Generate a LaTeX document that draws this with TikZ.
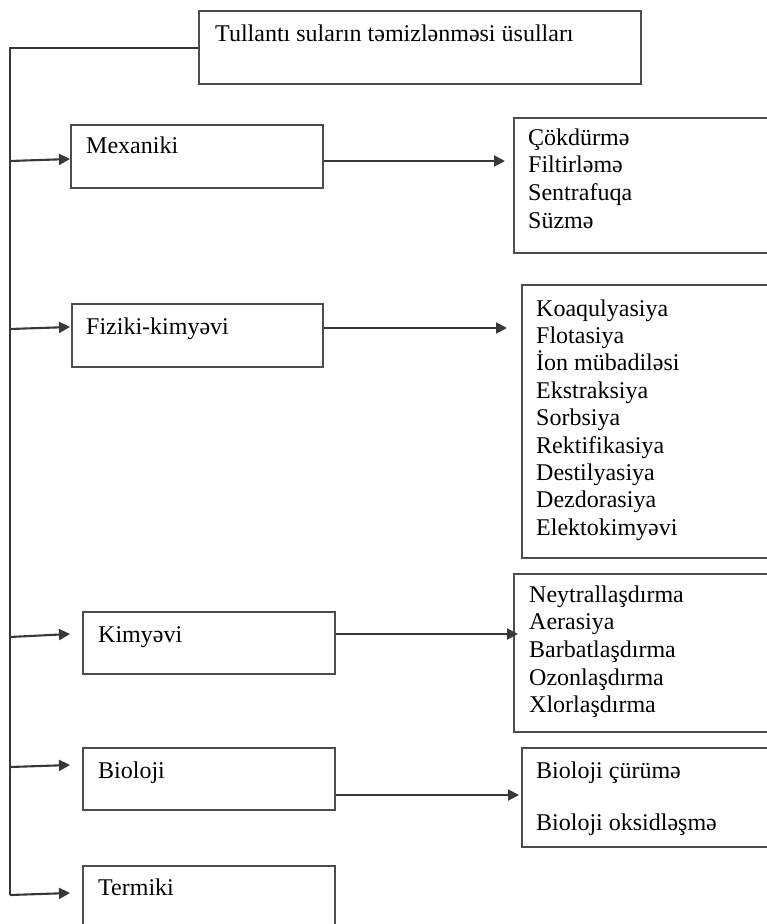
\documentclass[tikz,border=0pt]{standalone}
\usepackage{fontspec}
\setmainfont{Liberation Serif}
\usetikzlibrary{arrows.meta}
\begin{document}
\begin{tikzpicture}[x=1pt,y=-1pt,
  box/.style={draw=black!70, line width=2.3pt, rectangle, anchor=north west, inner sep=0pt},
  conn/.style={draw=black!78, line width=2.1pt},
  arr/.style={conn, -{Triangle[length=11pt,width=11pt]}},
  txt/.style={anchor=base west, inner sep=0pt, font=\fontsize{24}{27.6}\selectfont, text=black}]
\useasboundingbox (0,0) rectangle (767,924);
\fill[white] (0,0) rectangle (767,924);

% boxes
\node[box, minimum width=442pt, minimum height=73pt] (title) at (198,10) {};
\node[box, minimum width=252pt, minimum height=63pt] (mex) at (70,124) {};
\node[box, minimum width=251pt, minimum height=63pt] (fiz) at (71,303) {};
\node[box, minimum width=252pt, minimum height=62pt] (kim) at (82,611) {};
\node[box, minimum width=252pt, minimum height=62pt] (bio) at (82,747) {};
\node[box, minimum width=252pt, minimum height=80pt] (ter) at (82,865) {};
\node[box, minimum width=280pt, minimum height=135pt] (r1) at (513,117) {};
\node[box, minimum width=280pt, minimum height=273pt] (r2) at (521,284) {};
\node[box, minimum width=280pt, minimum height=158pt] (r3) at (513,573) {};
\node[box, minimum width=280pt, minimum height=99pt] (r4) at (521,747) {};

% texts
\node[txt] (ttitle) at (215,41) {Tullantı suların təmizlənməsi üsulları};
\node[txt] (tmex) at (86,153) {Mexaniki};
\node[txt] (tfiz) at (86,334) {Fiziki-kimyəvi};
\node[txt] (tkim) at (98,642) {Kimyəvi};
\node[txt] (tbio) at (98,778) {Bioloji};
\node[txt] (tter) at (98,895) {Termiki};

\foreach \t [count=\i from 0] in {Çökdürmə,Filtirləmə,Sentrafuqa,Süzmə}
  \node[txt] (ra\i) at (528,145+\i*27.7) {\t};
\foreach \t [count=\i from 0] in {Koaqulyasiya,Flotasiya,İon mübadiləsi,Ekstraksiya,Sorbsiya,Rektifikasiya,Destilyasiya,Dezdorasiya,Elektokimyəvi}
  \node[txt] (rb\i) at (536,316+\i*27.4) {\t};
\foreach \t [count=\i from 0] in {Neytrallaşdırma,Aerasiya,Barbatlaşdırma,Ozonlaşdırma,Xlorlaşdırma}
  \node[txt] (rc\i) at (529,602+\i*27.7) {\t};
\node[txt] (rd0) at (536,778) {Bioloji çürümə};
\node[txt] (rd1) at (536,830) {Bioloji oksidləşmə};

% trunk
\coordinate (trunkbot) at (10,895);
\draw[conn] (title.west) -| (trunkbot);

% trunk taps and arrow ends
\coordinate (s1) at (10,161);  \coordinate (e1) at (70,159);
\coordinate (s2) at (10,329);  \coordinate (e2) at (70,327);
\coordinate (s3) at (10,637);  \coordinate (e3) at (70,634);
\coordinate (s4) at (10,767);  \coordinate (e4) at (70,765);
\coordinate (e5) at (70,893);
\draw[arr] (s1) -- (e1);
\draw[arr] (s2) -- (e2);
\draw[arr] (s3) -- (e3);
\draw[arr] (s4) -- (e4);
\draw[arr] (trunkbot) -- (e5);

% right arrows
\coordinate (f1) at (505,161);
\coordinate (f2) at (507,328);
\coordinate (f3) at (518,634);
\coordinate (f4) at (519,795);
\draw[arr] (mex.east |- f1) -- (f1);
\draw[arr] (fiz.east |- f2) -- (f2);
\draw[arr] (kim.east |- f3) -- (f3);
\draw[arr] (bio.east |- f4) -- (f4);
\end{tikzpicture}
\end{document}
